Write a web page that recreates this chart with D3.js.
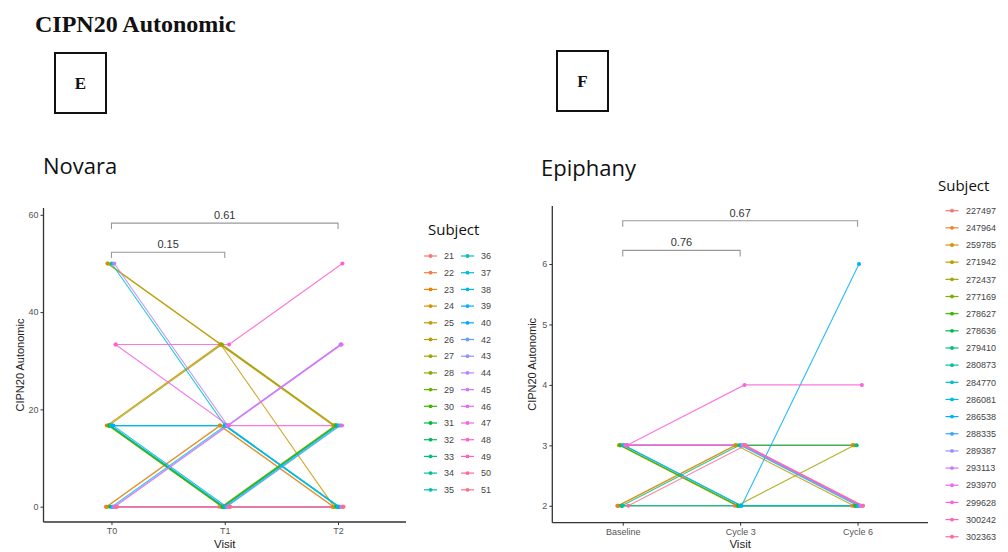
<!DOCTYPE html>
<html>
<head>
<meta charset="utf-8">
<script src="https://cdn.jsdelivr.net/npm/d3@7"></script>
<style>
  html, body { margin: 0; padding: 0; background: #fff; }
  svg { display: block; }
</style>
</head>
<body>
<svg id="chart" width="1008" height="552"></svg>
<script>
// ---- Novara cohort (CIPN20 autonomic subscale, 0-100) ----
const novaraVisits = ["T0", "T1", "T2"];
const novaraSubjects = ["21","22","23","24","25","26","27","28","29","30",
                        "31","32","33","34","35","36","37","38","39","40",
                        "42","43","44","45","46","47","48","49","50","51"];
const novaraT0 = [0, 0, 16.67, 0, 50, 50, 16.67, 16.67, 16.67, 16.67,
                  16.67, 0, 16.67, 16.67, 16.67, 50, 0, 0, 16.67, 16.67,
                  0, 0, 50, 0, 0, 33.33, 33.33, 0, 0, 0];
const novaraT1 = [0, 16.67, 33.33, 16.67, 33.33, 33.33, 0, 33.33, 0, 0,
                  0, 0, 0, 0, 16.67, 16.67, 16.67, 0, 16.67, 0,
                  0, 16.67, 16.67, 0, 16.67, 16.67, 33.33, 0, 0, 0];
const novaraT2 = [0, 0, 16.67, 0, 0, 16.67, 16.67, 16.67, 16.67, 16.67,
                  0, 16.67, 16.67, 0, 0, 0, 0, 16.67, 0, 0,
                  16.67, 33.33, 33.33, 0, 33.33, 16.67, 50, 0, 0, 0];
const novaraPLabels = ["0.15", "0.61"];
const novaraYTicks = [0, 20, 40, 60];

// ---- Epiphany cohort (CIPN20 autonomic raw score) ----
const epiphanyVisits = ["Baseline", "Cycle 3", "Cycle 6"];
const epiphanySubjects = ["227497","247964","259785","271942","272437","277169","278627",
                          "278636","279410","280873","284770","286081","286538","288335",
                          "289387","293113","293970","299628","300242","302363"];
const epiphanyBaseline = [2, 2, 2, 3, 3, 3, 3, 2, 2, 2, 3, 3, 3, 3, 3, 3, 3, 3, 3, 2];
const epiphanyCycle3   = [2, 3, 3, 3, 2, 2, 2, 2, 3, 2, 3, 2, 2, 3, 3, 3, 3, 4, 3, 3];
const epiphanyCycle6   = [2, 3, 3, 2, 3, 2, 2, 2, 3, 2, 2, 2, 6, 2, 2, 2, 2, 4, 2, 2];
const epiphanyPLabels = ["0.76", "0.67"];
const epiphanyYTicks = [2, 3, 4, 5, 6];

// ggplot2-style hue palette (polar LUV -> sRGB)
function hclLuv(h, c, l) {
  const Xn = 95.047, Yn = 100, Zn = 108.883;
  const hr = h * Math.PI / 180;
  const U = c * Math.cos(hr), V = c * Math.sin(hr);
  const Y = l > 8 ? Yn * Math.pow((l + 16) / 116, 3) : Yn * l / 903.3;
  const den = Xn + 15 * Yn + 3 * Zn;
  const un = 4 * Xn / den, vn = 9 * Yn / den;
  const Q = U / (13 * l) + un, R = V / (13 * l) + vn;
  const X = 9 * Y * Q / (4 * R);
  const Z = -X / 3 - 5 * Y + 3 * Y / R;
  const x = X / 100, y = Y / 100, z = Z / 100;
  const lin = [
    3.240479 * x - 1.537150 * y - 0.498535 * z,
   -0.969256 * x + 1.875992 * y + 0.041556 * z,
    0.055648 * x - 0.204043 * y + 1.057311 * z
  ];
  const g = lin.map(v => {
    const s = v <= 0.0031308 ? 12.92 * v : 1.055 * Math.pow(v, 1 / 2.4) - 0.055;
    return Math.round(Math.max(0, Math.min(1, s)) * 255);
  });
  return d3.rgb(g[0], g[1], g[2]).formatHex();
}
function huePalette(n) {
  return d3.range(n).map(i => hclLuv(15 + 360 * i / n, 100, 65));
}

const svg = d3.select("#chart");

// Figure heading and panel tags
svg.append("text").attr("x", 35).attr("y", 32)
  .style("font-family", "'Liberation Serif', 'DejaVu Serif', serif")
  .style("font-weight", "bold").style("font-size", "24px").attr("fill", "#111")
  .text("CIPN20 Autonomic");

function tagBox(x, y, w, h, letter) {
  svg.append("rect").attr("x", x).attr("y", y).attr("width", w).attr("height", h)
    .attr("fill", "none").attr("stroke", "#111").attr("stroke-width", 2);
  svg.append("text").attr("x", x + w / 2).attr("y", y + h / 2 + 6)
    .attr("text-anchor", "middle")
    .style("font-family", "'Liberation Serif', serif").style("font-weight", "bold")
    .style("font-size", "17px").attr("fill", "#111").text(letter);
}
tagBox(55, 53, 51, 60, "E");
tagBox(557, 51, 51, 60, "F");

function drawPanel(cfg) {
  const n = cfg.subjects.length;
  const colors = huePalette(n);
  const color = d3.scaleOrdinal().domain(cfg.subjects).range(colors);

  const x = d3.scalePoint().domain(cfg.visits).range([cfg.left, cfg.right]).padding(0.6);
  const y = d3.scaleLinear().domain(cfg.yDomain).range([cfg.bottom, cfg.top]);

  // each subject is dodged slightly sideways so overlapping paths stay visible
  const rows = cfg.subjects.map((s, i) => ({
    subject: s,
    dx: (i / (n - 1) - 0.5) * cfg.dodge,
    values: cfg.series.map((arr, k) => ({ visit: cfg.visits[k], value: arr[i] }))
  }));

  const g = svg.append("g");

  // panel title
  g.append("text").attr("x", cfg.titleX).attr("y", cfg.titleY)
    .style("font-family", "'Open Sans', 'Noto Sans', sans-serif")
    .style("font-size", "22px").attr("fill", "#111").text(cfg.title);

  // subject trajectories
  rows.forEach(r => {
    g.append("path")
      .attr("d", d3.line().x(d => x(d.visit) + r.dx).y(d => y(d.value))(r.values))
      .attr("fill", "none").attr("stroke", color(r.subject))
      .attr("stroke-width", 1.1).attr("stroke-opacity", 0.85);
  });
  rows.forEach(r => {
    g.selectAll(null).data(r.values).join("circle")
      .attr("cx", d => x(d.visit) + r.dx).attr("cy", d => y(d.value))
      .attr("r", 2).attr("fill", color(r.subject));
  });

  // axes (classic theme: axis lines only)
  const axisColor = "#333";
  g.append("line").attr("x1", cfg.left).attr("x2", cfg.left)
    .attr("y1", cfg.top).attr("y2", cfg.bottom)
    .attr("stroke", axisColor).attr("stroke-width", 1.3);
  g.append("line").attr("x1", cfg.left).attr("x2", cfg.right)
    .attr("y1", cfg.bottom).attr("y2", cfg.bottom)
    .attr("stroke", axisColor).attr("stroke-width", 1.3);

  const yAxis = g.append("g").attr("transform", `translate(${cfg.left},0)`)
    .call(d3.axisLeft(y).tickValues(cfg.yTicks).tickSize(3).tickPadding(2).tickFormat(d3.format("d")));
  yAxis.select(".domain").remove();
  yAxis.selectAll("line").attr("stroke", axisColor);
  yAxis.selectAll("text").attr("fill", "#555").style("font-size", "9px")
    .style("font-family", "'Liberation Sans', Arial, sans-serif");

  const xAxis = g.append("g").attr("transform", `translate(0,${cfg.bottom})`)
    .call(d3.axisBottom(x).tickSize(3).tickPadding(3));
  xAxis.select(".domain").remove();
  xAxis.selectAll("line").attr("stroke", axisColor);
  xAxis.selectAll("text").attr("fill", "#555").style("font-size", "9px")
    .style("font-family", "'Liberation Sans', Arial, sans-serif");

  g.append("text").attr("x", (cfg.left + cfg.right) / 2).attr("y", 548)
    .attr("text-anchor", "middle")
    .style("font-family", "'Liberation Sans', Arial, sans-serif").style("font-size", "11.5px")
    .attr("fill", "#222").text("Visit");
  g.append("text")
    .attr("transform", `translate(${cfg.yTitleX},${(cfg.top + cfg.bottom) / 2}) rotate(-90)`)
    .attr("text-anchor", "middle")
    .style("font-family", "'Liberation Sans', Arial, sans-serif").style("font-size", "11px")
    .attr("fill", "#222").text("CIPN20 Autonomic");

  // comparison brackets with p-values
  cfg.brackets.forEach((b, i) => {
    const x1 = x(cfg.visits[0]), x2 = x(cfg.visits[b.to]);
    const yb = y(b.level), yt = y(b.level - b.drop);
    g.append("path")
      .attr("d", `M${x1},${yt}V${yb}H${x2}V${yt}`)
      .attr("fill", "none").attr("stroke", "#999").attr("stroke-width", 1.1);
    g.append("text").attr("x", (x1 + x2) / 2).attr("y", yb - 4)
      .attr("text-anchor", "middle")
      .style("font-family", "'Liberation Sans', Arial, sans-serif").style("font-size", "11px")
      .attr("fill", "#333").text(cfg.pLabels[i]);
  });

  // legend
  const lg = g.append("g");
  lg.append("text").attr("x", cfg.legend.titleX).attr("y", cfg.legend.titleY)
    .style("font-family", "'Open Sans', 'Noto Sans', sans-serif")
    .style("font-size", "15px").attr("fill", "#111").text("Subject");
  cfg.subjects.forEach((s, i) => {
    const col = Math.floor(i / cfg.legend.perCol);
    const row = i % cfg.legend.perCol;
    const kx = cfg.legend.keyX + col * cfg.legend.colGap;
    const ky = cfg.legend.rowY + row * cfg.legend.rowGap;
    lg.append("line").attr("x1", kx - 6.5).attr("x2", kx + 6.5).attr("y1", ky).attr("y2", ky)
      .attr("stroke", color(s)).attr("stroke-width", 1.2);
    lg.append("circle").attr("cx", kx).attr("cy", ky).attr("r", 1.9).attr("fill", color(s));
    lg.append("text").attr("x", kx + cfg.legend.labelGap).attr("y", ky + 3.2)
      .style("font-family", "'Liberation Sans', Arial, sans-serif").style("font-size", "9px")
      .attr("fill", "#444").text(s);
  });
}

drawPanel({
  title: "Novara", titleX: 43, titleY: 174,
  visits: novaraVisits, subjects: novaraSubjects,
  series: [novaraT0, novaraT1, novaraT2],
  yDomain: [-3.15, 61.4], yTicks: novaraYTicks,
  left: 43.5, right: 406, top: 208, bottom: 522, yTitleX: 24, dodge: 11,
  pLabels: novaraPLabels,
  brackets: [{ to: 1, level: 52.3, drop: 1.2 }, { to: 2, level: 58.3, drop: 1.2 }],
  legend: { titleX: 428, titleY: 235, rowY: 256, rowGap: 16.7, perCol: 15,
            keyX: 430.5, colGap: 37, labelGap: 13.5 }
});

drawPanel({
  title: "Epiphany", titleX: 541, titleY: 176,
  visits: epiphanyVisits, subjects: epiphanySubjects,
  series: [epiphanyBaseline, epiphanyCycle3, epiphanyCycle6],
  yDomain: [1.72, 6.96], yTicks: epiphanyYTicks,
  left: 552.3, right: 928, top: 206, bottom: 522.7, yTitleX: 536, dodge: 11,
  pLabels: epiphanyPLabels,
  brackets: [{ to: 1, level: 6.226, drop: 0.1 }, { to: 2, level: 6.716, drop: 0.1 }],
  legend: { titleX: 938, titleY: 191, rowY: 210.7, rowGap: 17.16, perCol: 20,
            keyX: 952, colGap: 0, labelGap: 14 }
});
</script>
</body>
</html>
